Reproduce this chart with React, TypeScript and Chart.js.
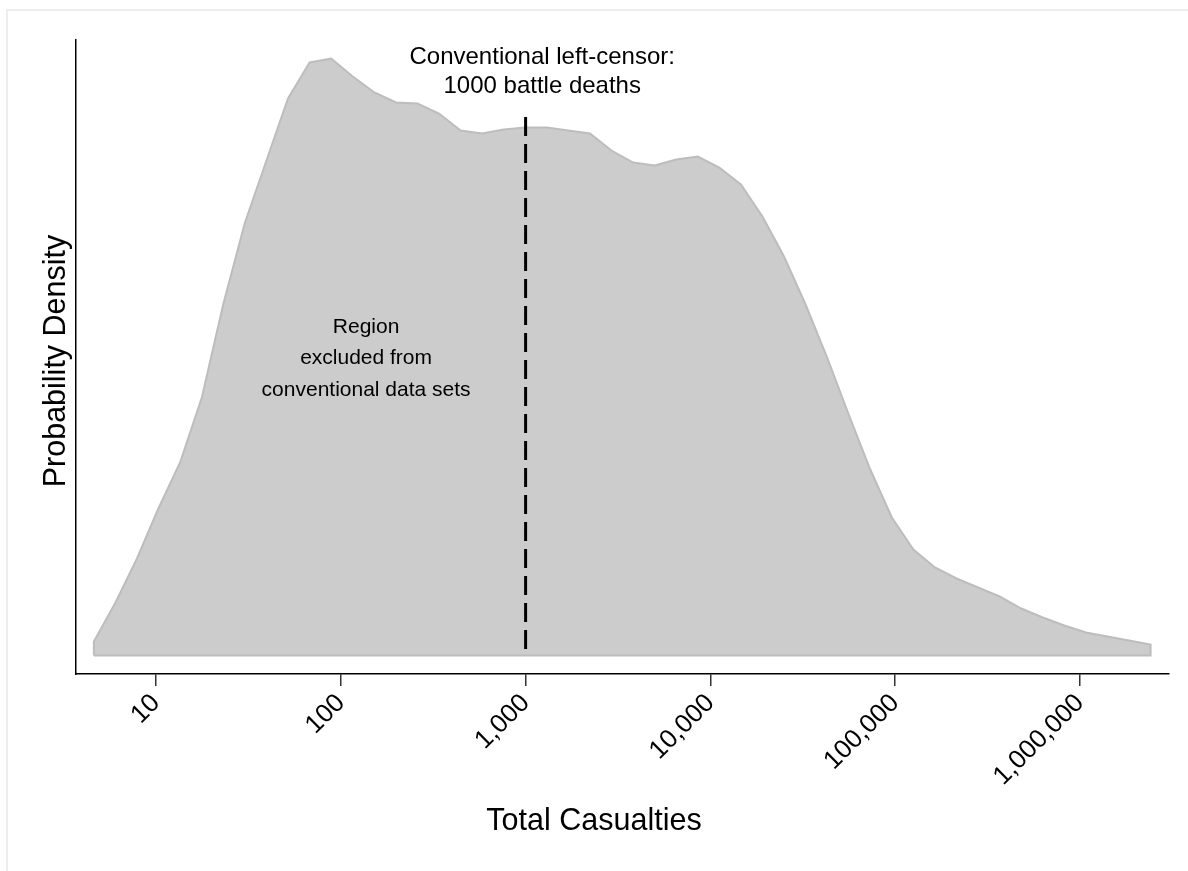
import React, { useEffect, useRef } from "react";
import { Chart, registerables } from "chart.js";

Chart.register(...registerables);

// Total casualties (KDE evaluation grid, log-spaced)
const casualties = [
  4.61, 6.04, 7.89, 10.3, 13.5, 17.7, 23.1, 30.3, 39.6, 51.8,
  67.8, 88.7, 116, 152, 199, 260, 340, 445, 582, 761,
  996, 1303, 1704, 2229, 2917, 3816, 4992, 6531, 8544, 11177,
  14622, 19128, 25024, 32736, 42826, 56025, 73293, 95883, 125435, 164095,
  214670, 280833, 367387, 480617, 628747, 822530, 1076038, 1407691, 1841565, 2409163,
];

// Estimated probability density (arbitrary units)
const density = [
  0.014, 0.053, 0.097, 0.147, 0.193, 0.258, 0.351, 0.433, 0.495, 0.557,
  0.593, 0.597, 0.579, 0.563, 0.553, 0.552, 0.542, 0.525, 0.522, 0.526,
  0.528, 0.528, 0.525, 0.522, 0.505, 0.493, 0.49, 0.496, 0.499, 0.488,
  0.471, 0.439, 0.399, 0.351, 0.298, 0.241, 0.186, 0.138, 0.106, 0.088,
  0.077, 0.068, 0.059, 0.047, 0.038, 0.03, 0.023, 0.019, 0.015, 0.011,
];

const tickValues = [10, 100, 1000, 10000, 100000, 1000000];

const censorValue = 1000;
const censorTop = 0.5385;

const censorLabel = ["Conventional left-censor:", "1000 battle deaths"];
const regionLabel = ["Region", "excluded from", "conventional data sets"];
const xTitle = "Total Casualties";
const yTitle = "Probability Density";

const FONT = 'Arial, "Liberation Sans", sans-serif';

const annotationPlugin = {
  id: "textAnnotations",
  afterDatasetsDraw(chart: any) {
    const { ctx, scales } = chart;
    const xs = scales.x;
    const ys = scales.y;
    const items = [
      { x: 1230, y: 0.5985, lines: censorLabel, size: 24, gap: 29 },
      { x: 137, y: 0.3285, lines: regionLabel, size: 21, gap: 31.5 },
    ];
    ctx.save();
    ctx.fillStyle = "#000";
    ctx.textAlign = "center";
    ctx.textBaseline = "middle";
    for (const it of items) {
      ctx.font = `${it.size}px ${FONT}`;
      const px = xs.getPixelForValue(it.x);
      const py = ys.getPixelForValue(it.y);
      it.lines.forEach((t, i) => ctx.fillText(t, px, py + i * it.gap));
    }
    // axis titles
    ctx.font = `30.5px ${FONT}`;
    ctx.fillText(xTitle, chart.width / 2, 822);
    ctx.translate(57, 361);
    ctx.rotate(-Math.PI / 2);
    ctx.fillText(yTitle, 0, 0);
    ctx.restore();
  },
};

export default function App() {
  const ref = useRef<HTMLCanvasElement | null>(null);

  useEffect(() => {
    if (!ref.current) return;
    const curve = casualties.map((c, i) => ({ x: c, y: density[i] }));
    const first = casualties[0];
    const last = casualties[casualties.length - 1];
    const outline = [{ x: first, y: 0 }, ...curve, { x: last, y: 0 }, { x: first, y: 0 }];

    const chart = new Chart(ref.current, {
      type: "line",
      data: {
        datasets: [
          {
            data: [
              { x: censorValue, y: censorTop },
              { x: censorValue, y: 0 },
            ],
            borderColor: "#000",
            borderWidth: 3,
            borderDash: [19, 8],
            pointRadius: 0,
            fill: false,
          },
          {
            data: outline,
            borderColor: "#bdbdbd",
            borderWidth: 2,
            pointRadius: 0,
            fill: false,
          },
          {
            data: curve,
            borderWidth: 0,
            borderColor: "rgba(0,0,0,0)",
            backgroundColor: "#cccccc",
            pointRadius: 0,
            fill: "origin",
          },
        ],
      },
      options: {
        responsive: false,
        animation: false,
        events: [],
        layout: { padding: { left: 76, top: 40, right: 19, bottom: 20 } },
        plugins: {
          legend: { display: false },
          tooltip: { enabled: false },
        },
        scales: {
          x: {
            type: "logarithmic",
            min: 3.69,
            max: 3031000,
            bounds: "data",
            afterBuildTicks: (s: any) => {
              s.ticks = tickValues.map((v) => ({ value: v }));
            },
            afterFit: (s: any) => {
              s.height = 871 - 674 - 20;
            },
            ticks: {
              autoSkip: false,
              minRotation: 45,
              maxRotation: 45,
              padding: 2,
              color: "#000",
              font: { size: 26, family: FONT },
              callback: (v: any) => Number(v).toLocaleString("en-US"),
            },
            grid: {
              display: true,
              drawOnChartArea: false,
              drawTicks: true,
              tickLength: 12,
              color: "#333",
              lineWidth: 1.5,
            },
            border: { display: true, color: "#000", width: 1.5 },
            title: { display: false },
          },
          y: {
            type: "linear",
            min: -0.0185,
            max: 0.6155,
            afterFit: (s: any) => {
              s.width = 0;
            },
            ticks: { display: false },
            grid: { display: false },
            border: { display: true, color: "#000", width: 1.5 },
            title: { display: false },
          },
        },
      },
      plugins: [annotationPlugin],
    } as any);

    return () => chart.destroy();
  }, []);

  return (
    <div style={{ position: "absolute", left: 0, top: 0, width: 1188, height: 871, overflow: "hidden" }}>
      <div
        style={{
          position: "absolute",
          left: 6,
          top: 9,
          width: 1182,
          height: 862,
          boxSizing: "border-box",
          borderLeft: "2px solid #eeeeee",
          borderTop: "2px solid #eeeeee",
        }}
      />
      <canvas ref={ref} width={1188} height={871} style={{ position: "absolute", left: 0, top: 0 }} />
    </div>
  );
}
